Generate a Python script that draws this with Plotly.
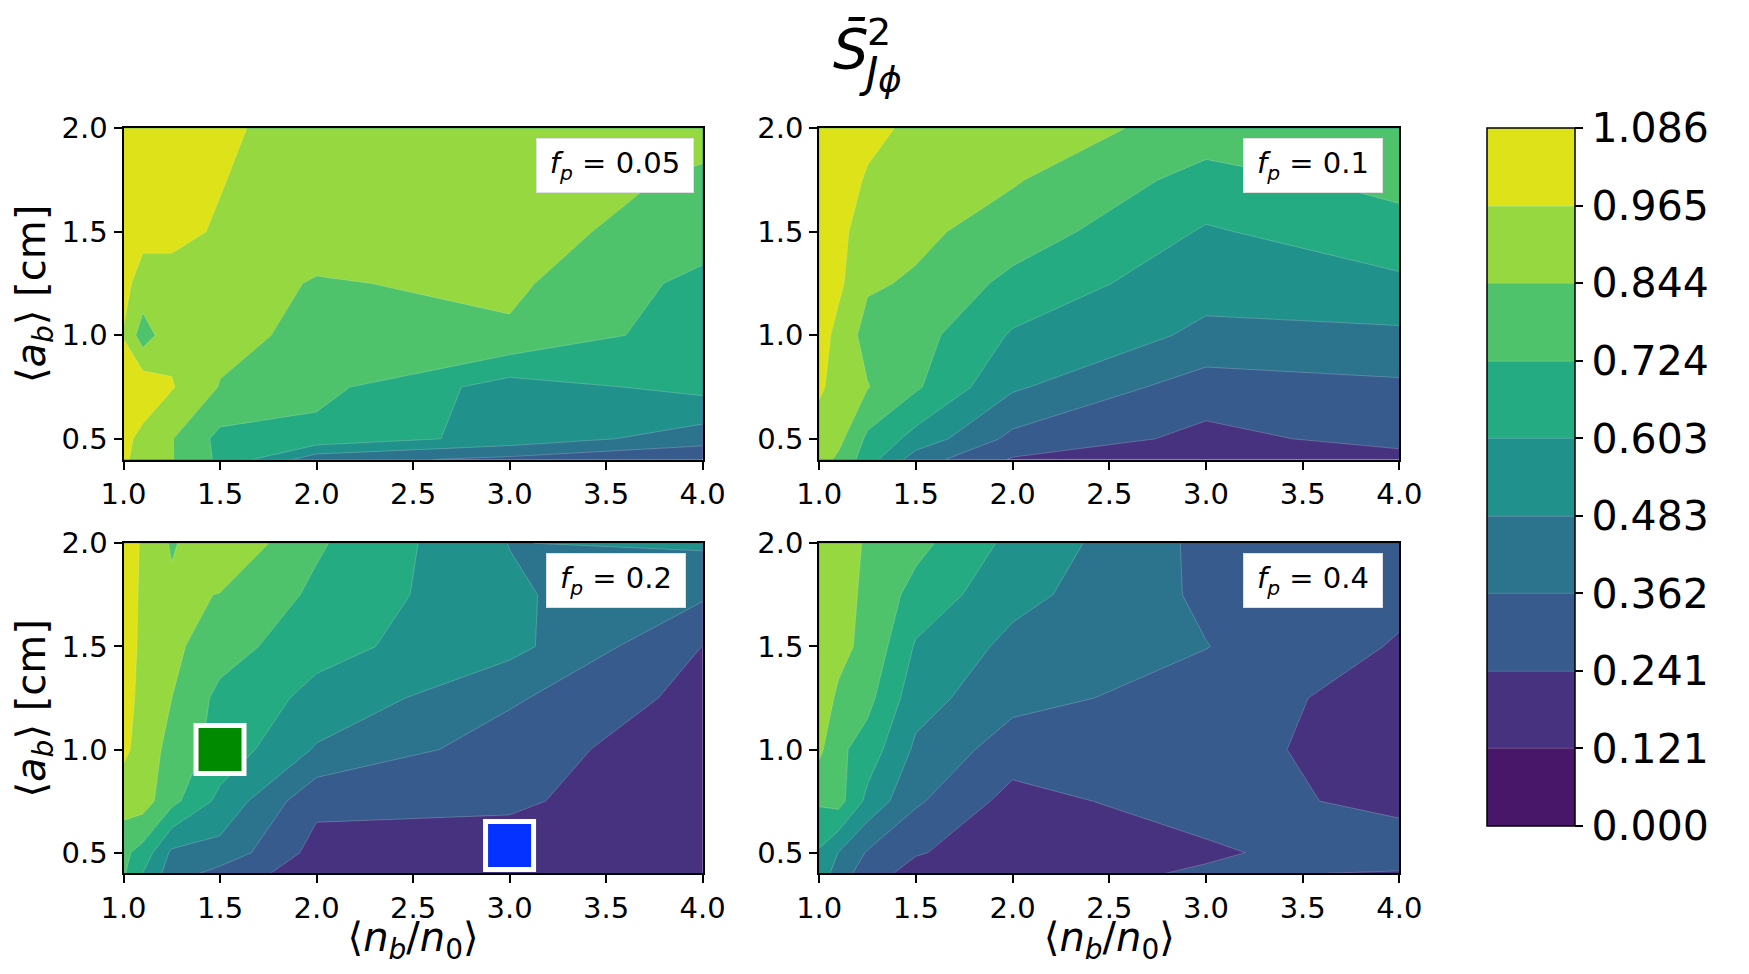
"""
Filled-contour map of the mean squared J_phi score over <n_b/n_0> x <a_b>,
one panel per pinch fraction f_p, with a shared discrete viridis colorbar.
"""
import plotly.graph_objects as go

W, H = 1749, 974
PAGE_PAD = 8          # default body margin of the html page
FW, FH = W - 2 * PAGE_PAD, H - 2 * PAGE_PAD

# grid of the scan
NB_RATIO = [1.0, 1.1, 1.25, 1.5, 2.0, 3.0, 4.0]          # <n_b/n_0>
A_B = [0.4, 0.5, 0.75, 1.0, 1.25, 1.5, 1.75, 2.0]        # <a_b> [cm]

# S^2 values, one row per A_B value, one column per NB_RATIO value
S2_FP005 = [
    [0.98, 0.93, 0.85, 0.70, 0.41, 0.33, 0.25],
    [1.00, 0.93, 0.85, 0.69, 0.685, 0.558, 0.42],
    [1.03, 1.05, 0.974, 0.838, 0.76, 0.551, 0.64],
    [0.96, 0.78, 0.93, 0.88, 0.813, 0.828, 0.655],
    [0.99, 0.93, 0.93, 0.90, 0.835, 0.868, 0.687],
    [1.02, 0.99, 0.99, 0.955, 0.90, 0.885, 0.79],
    [1.04, 1.02, 1.00, 0.97, 0.90, 0.89, 0.83],
    [1.05, 1.04, 1.02, 0.99, 0.90, 0.90, 0.875],
]
S2_FP01 = [
    [0.90, 0.82, 0.66, 0.42, 0.23, 0.17, 0.20],
    [0.92, 0.88, 0.70, 0.56, 0.33, 0.21, 0.28],
    [0.98, 0.93, 0.85, 0.74, 0.50, 0.30, 0.34],
    [1.02, 0.928, 0.80, 0.77, 0.59, 0.46, 0.46],
    [1.04, 0.99, 0.86, 0.83, 0.69, 0.52, 0.58],
    [1.05, 0.99, 0.92, 0.87, 0.79, 0.59, 0.68],
    [1.06, 1.01, 0.955, 0.91, 0.855, 0.68, 0.76],
    [1.07, 1.03, 0.99, 0.945, 0.92, 0.79, 0.80],
]
S2_FP02 = [
    [0.74, 0.60, 0.42, 0.32, 0.17, 0.17, 0.15],
    [0.75, 0.68, 0.46, 0.44, 0.20, 0.19, 0.20],
    [0.90, 0.90, 0.76, 0.57, 0.27, 0.26, 0.16],
    [0.99, 0.92, 0.80, 0.68, 0.47, 0.30, 0.16],
    [1.00, 0.94, 0.845, 0.69, 0.57, 0.38, 0.20],
    [1.00, 0.95, 0.87, 0.78, 0.64, 0.52, 0.24],
    [1.01, 0.95, 0.87, 0.84, 0.70, 0.50, 0.38],
    [1.01, 0.955, 0.83, 0.95, 0.74, 0.48, 0.50],
]
S2_FP04 = [
    [0.55, 0.43, 0.29, 0.20, 0.17, 0.26, 0.23],
    [0.59, 0.48, 0.35, 0.25, 0.18, 0.22, 0.325],
    [0.74, 0.77, 0.57, 0.38, 0.20, 0.30, 0.20],
    [0.87, 0.75, 0.67, 0.46, 0.30, 0.30, 0.16],
    [0.89, 0.83, 0.76, 0.53, 0.40, 0.31, 0.18],
    [0.91, 0.87, 0.82, 0.59, 0.45, 0.365, 0.23],
    [0.92, 0.89, 0.82, 0.68, 0.52, 0.34, 0.27],
    [0.93, 0.90, 0.83, 0.76, 0.57, 0.33, 0.30],
]

FP_LABELS = ['0.05', '0.1', '0.2', '0.4']

# highlighted runs in the f_p = 0.2 panel
MARK_NB = [1.5, 3.0]
MARK_AB = [1.0, 0.535]
MARK_COLORS = ['#008a00', '#0532ff']

# colour levels
ZMAX = 1.0857
N_BANDS = 9
CBAR_TICKTEXT = ['0.000', '0.121', '0.241', '0.362', '0.483',
                 '0.603', '0.724', '0.844', '0.965', '1.086']
BAND_COLORS = ['#481769', '#46327e', '#375b8d', '#2c738e', '#21918c',
               '#25ab82', '#4ec36b', '#95d840', '#dde318']

X_TICKS = [1.0, 1.5, 2.0, 2.5, 3.0, 3.5, 4.0]
X_TICKTEXT = ['1.0', '1.5', '2.0', '2.5', '3.0', '3.5', '4.0']
Y_TICKS = [0.5, 1.0, 1.5, 2.0]
Y_TICKTEXT = ['0.5', '1.0', '1.5', '2.0']

FONT = 'DejaVu Sans'

# panel boxes in window pixels: left, right, top, bottom
PANELS = [
    (123.5, 702.6, 128.3, 459.5),
    (819.2, 1399.4, 128.3, 459.5),
    (123.5, 702.6, 543.3, 873.3),
    (819.2, 1399.4, 543.3, 873.3),
]


def px_x(px):
    return (px - PAGE_PAD) / FW


def px_y(px):
    return 1 - (px - PAGE_PAD) / FH


def stepped_scale(colors):
    scale = []
    n = len(colors)
    for i, c in enumerate(colors):
        scale.append([i / n, c])
        scale.append([(i + 1) / n, c])
    return scale


fig = go.Figure()

all_z = [S2_FP005, S2_FP01, S2_FP02, S2_FP04]
colorscale = stepped_scale(BAND_COLORS)

for k, z in enumerate(all_z):
    ax = '' if k == 0 else str(k + 1)
    fig.add_trace(go.Contour(
        x=NB_RATIO, y=A_B, z=z,
        zmin=0, zmax=ZMAX,
        colorscale=colorscale,
        contours=dict(start=0, end=ZMAX, size=ZMAX / N_BANDS, coloring='fill'),
        line=dict(width=0.6, color='rgba(255,255,255,0.35)', smoothing=0),
        showscale=(k == 0),
        colorbar=dict(
            x=px_x(1487), xanchor='left', xpad=0,
            y=px_y(477), yanchor='middle', ypad=0,
            len=698 / FH, lenmode='fraction',
            thickness=88, thicknessmode='pixels',
            outlinecolor='black', outlinewidth=1.5,
            tickmode='array',
            tickvals=[ZMAX * i / N_BANDS for i in range(N_BANDS + 1)],
            ticktext=CBAR_TICKTEXT,
            ticks='outside', ticklen=8, tickwidth=1.5, tickcolor='black',
            tickfont=dict(family=FONT, size=41, color='black'),
        ),
        hoverinfo='x+y+z',
        xaxis='x' + ax, yaxis='y' + ax,
    ))

# highlighted runs
for nb, ab, col in zip(MARK_NB, MARK_AB, MARK_COLORS):
    fig.add_trace(go.Scatter(
        x=[nb], y=[ab], mode='markers',
        marker=dict(symbol='square', size=48, color=col,
                    line=dict(color='white', width=5)),
        showlegend=False, hoverinfo='skip',
        xaxis='x3', yaxis='y3',
    ))

axis_common = dict(
    showline=True, mirror=True, linecolor='black', linewidth=2,
    ticks='outside', ticklen=8, tickwidth=1.5, tickcolor='black',
    showgrid=False, zeroline=False,
    tickfont=dict(family=FONT, size=29, color='black'),
)

xlabel = '⟨<i>n</i><sub><i>b</i></sub>/<i>n</i><sub>0</sub>⟩'
ylabel = '⟨<i>a</i><sub><i>b</i></sub>⟩ [cm]'

layout = dict(
    width=FW, height=FH,
    margin=dict(l=0, r=0, t=0, b=0),
    paper_bgcolor='white', plot_bgcolor='white',
    showlegend=False,
    font=dict(family=FONT, color='black'),
)

for k, (left, right, top, bottom) in enumerate(PANELS):
    ax = '' if k == 0 else str(k + 1)
    xa = dict(axis_common,
              domain=[px_x(left), px_x(right)],
              range=[1.0, 4.0], tickvals=X_TICKS, ticktext=X_TICKTEXT,
              anchor='y' + ax, automargin=False)
    ya = dict(axis_common,
              domain=[px_y(bottom), px_y(top)],
              range=[0.4, 2.0], tickvals=Y_TICKS, ticktext=Y_TICKTEXT,
              anchor='x' + ax, automargin=False)
    if k >= 2:
        xa['title'] = dict(text=xlabel, standoff=9,
                           font=dict(family=FONT, size=40, color='black'))
    if k % 2 == 0:
        ya['title'] = dict(text=ylabel, standoff=6,
                           font=dict(family=FONT, size=40, color='black'))
    layout['xaxis' + ax] = xa
    layout['yaxis' + ax] = ya

fig.update_layout(**layout)

# f_p labels, white boxes in the upper right corner of each panel
box_w = [158, 140, 140, 140]
for k, (left, right, top, bottom) in enumerate(PANELS):
    inset_x = 8.4 if k == 0 else 16.5
    fig.add_annotation(
        x=px_x(right - inset_x), y=px_y(top + 10),
        xref='paper', yref='paper', xanchor='right', yanchor='top',
        text=f'<i>f</i><sub><i>p</i></sub> = {FP_LABELS[k]}',
        showarrow=False,
        font=dict(family=FONT, size=29, color='black'),
        bgcolor='white', bordercolor='#e0e0e0', borderwidth=1, borderpad=4,
        width=box_w[k] - 10, height=45, align='center', valign='middle',
    )

# figure title: S-bar, superscript 2, subscript J_phi
fig.add_annotation(x=px_x(851), y=px_y(49), xref='paper', yref='paper',
                   xanchor='center', yanchor='middle', showarrow=False,
                   text='<i>S̄</i>', font=dict(family=FONT, size=56, color='black'))
fig.add_annotation(x=px_x(865), y=px_y(32), xref='paper', yref='paper',
                   xanchor='left', yanchor='middle', showarrow=False,
                   text='2', font=dict(family=FONT, size=38, color='black'))
fig.add_annotation(x=px_x(857), y=px_y(72), xref='paper', yref='paper',
                   xanchor='left', yanchor='middle', showarrow=False,
                   text='<i>J</i>', font=dict(family=FONT, size=42, color='black'))
fig.add_annotation(x=px_x(876), y=px_y(80), xref='paper', yref='paper',
                   xanchor='left', yanchor='middle', showarrow=False,
                   text='<i>ϕ</i>', font=dict(family=FONT, size=36, color='black'))

fig.write_html('out.html')
